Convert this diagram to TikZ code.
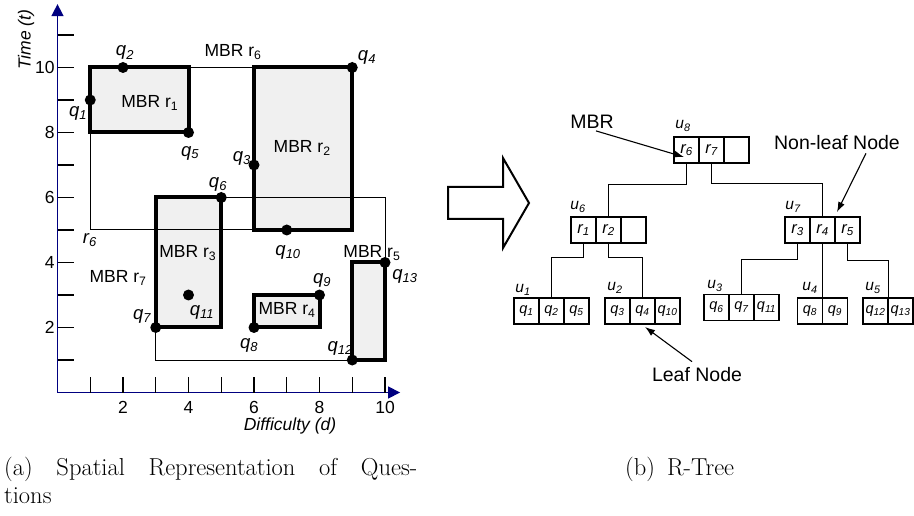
\documentclass[tikz,border=0pt]{standalone}
\usepackage{fontspec}
\newfontfamily\hv{Liberation Sans}
\usetikzlibrary{arrows.meta,calc}
\definecolor{mbrfill}{HTML}{F0F0F0}
\definecolor{axisblue}{HTML}{000080}
\newcommand\qq[1]{\textit{q\textsubscript{#1}}}
\newcommand\rr[1]{\textit{r\textsubscript{#1}}}
\newcommand\uu[1]{\textit{u\textsubscript{#1}}}
\newcommand\mbrname[1]{MBR r\textsubscript{#1}}
\tikzset{
 axisline/.style={draw=axisblue, line width=1.5pt, -{Triangle[length=12pt,width=12pt]}},
 tickmark/.style={line width=1.2pt},
 numlbl/.style={font=\hv\fontsize{17.5}{20}\selectfont, inner sep=0pt},
 mbrlbl/.style={font=\hv\fontsize{17.5}{20}\selectfont, inner sep=0pt},
 qlbl/.style={font=\hv\fontsize{18.5}{20}\selectfont, inner sep=0pt},
 mbrbox/.style={line width=4pt},
 mbrthin/.style={line width=1pt},
 qdot/.style={circle, fill, inner sep=0pt, minimum size=11pt},
 cell/.style={draw, line width=1.1pt, minimum width=25pt, minimum height=26pt, inner sep=0pt, font=\hv\fontsize{16.5}{18}\selectfont},
 leafcell/.style={cell, font=\hv\fontsize{14.5}{16}\selectfont},
 ulbl/.style={font=\hv\fontsize{15.5}{18}\selectfont, inner sep=0pt},
 note/.style={font=\hv\fontsize{19.5}{22}\selectfont, inner sep=0pt},
 link/.style={line width=1.1pt},
 callout/.style={line width=1.1pt, -{Latex[length=10pt,width=7pt]}},
 captext/.style={font=\fontsize{24.5}{29}\selectfont, inner sep=0pt, anchor=base west},
}
\begin{document}
\begin{tikzpicture}[x=1pt,y=1pt]
\useasboundingbox (0,0) rectangle (914,515);

% ---------------- (a) spatial plot ----------------
\begin{scope}[shift={(57.5pt,122.5pt)},x=32.75pt,y=32.5pt]
 \coordinate (O) at (0,0);
 \coordinate (ytip) at (0,11.95);
 \coordinate (xtip) at (10.46,0);
 % fills
 \fill[mbrfill] (1,8) rectangle (4,10);
 \fill[mbrfill] (6,5) rectangle (9,10);
 \fill[mbrfill] (3,2) rectangle (5,6);
 \fill[mbrfill] (6,2) rectangle (8,3);
 \fill[mbrfill] (9,1) rectangle (10,4);
 % thin MBRs r6, r7
 \draw[mbrthin] (1,5) rectangle (9,10);
 \draw[mbrthin] (3,1) rectangle (10,6);
 % thick MBRs
 \draw[mbrbox] (1,8) rectangle (4,10);
 \draw[mbrbox] (6,5) rectangle (9,10);
 \draw[mbrbox] (3,2) rectangle (5,6);
 \draw[mbrbox] (6,2) rectangle (8,3);
 \draw[mbrbox] (9,1) rectangle (10,4);
 % axes
 \draw[axisline] (O) -- (ytip);
 \draw[axisline] (O) -- (xtip);
 \foreach \i in {1,...,11} \draw[tickmark] (0,\i) -- ++(16pt,0);
 \foreach \i in {1,...,10} \draw[tickmark] (\i,0) -- ++(0,16pt);
 \foreach \i in {2,4,...,10} \node[numlbl,anchor=east] (yl\i) at (-0.08,\i) {\i};
 \foreach \i in {2,4,...,10} \node[numlbl] (xl\i) at (\i,-0.47) {\i};
 \node[numlbl,rotate=90] (ttl) at (-0.96,10.85) {\textit{Time (t)}};
 \node[numlbl] (dtl) at (7.1,-1.04) {\textit{Difficulty (d)}};
 % points
 \node[qdot] (q1) at (1,9) {};
 \node[qdot] (q2) at (2,10) {};
 \node[qdot] (q3) at (6,7) {};
 \node[qdot] (q4) at (9,10) {};
 \node[qdot] (q5) at (4,8) {};
 \node[qdot] (q6) at (5,6) {};
 \node[qdot] (q7) at (3,2) {};
 \node[qdot] (q8) at (6,2) {};
 \node[qdot] (q9) at (8,3) {};
 \node[qdot] (q10) at (7,5) {};
 \node[qdot] (q11) at (4,3) {};
 \node[qdot] (q12) at (9,1) {};
 \node[qdot] (q13) at (10,4) {};
 % point labels
 \node[qlbl] (lq1) at (0.63,8.6) {\qq{1}};
 \node[qlbl] (lq2) at (2.06,10.45) {\qq{2}};
 \node[qlbl] (lq3) at (5.63,7.21) {\qq{3}};
 \node[qlbl] (lq4) at (9.45,10.32) {\qq{4}};
 \node[qlbl] (lq5) at (4.05,7.37) {\qq{5}};
 \node[qlbl] (lq6) at (4.90,6.41) {\qq{6}};
 \node[qlbl] (lq7) at (2.58,2.35) {\qq{7}};
 \node[qlbl] (lq8) at (5.85,1.46) {\qq{8}};
 \node[qlbl] (lq9) at (8.08,3.46) {\qq{9}};
 \node[qlbl] (lq10) at (7.04,4.32) {\qq{10}};
 \node[qlbl] (lq11) at (4.41,2.45) {\qq{11}};
 \node[qlbl] (lq12) at (8.63,1.37) {\qq{12}};
 \node[qlbl] (lq13) at (10.61,3.58) {\qq{13}};
 \node[qlbl] (lr6) at (0.99,4.69) {\rr{6}};
 % MBR labels
 \node[mbrlbl] (m1) at (2.82,8.91) {\mbrname{1}};
 \node[mbrlbl] (m2) at (7.47,7.52) {\mbrname{2}};
 \node[mbrlbl] (m3) at (3.98,4.29) {\mbrname{3}};
 \node[mbrlbl] (m4) at (7.01,2.54) {\mbrname{4}};
 \node[mbrlbl] (m5) at (9.60,4.29) {\mbrname{5}};
 \node[mbrlbl] (m6) at (5.36,10.48) {\mbrname{6}};
 \node[mbrlbl] (m7) at (1.85,3.52) {\mbrname{7}};
\end{scope}

% ---------------- big arrow ----------------
\draw[line width=2pt, line join=miter] (448,328) -- (503,328) -- (503,357) -- (529,312)
   -- (503,267) -- (503,296) -- (448,296) -- cycle;

% ---------------- (b) R-tree ----------------
\node[cell] (u8a) at (686.5,365) {\rr{6}};
\node[cell] (u8b) at (711.5,365) {\rr{7}};
\node[cell] (u8c) at (736.5,365) {};
\node[cell] (u6a) at (583.5,285) {\rr{1}};
\node[cell] (u6b) at (608.5,285) {\rr{2}};
\node[cell] (u6c) at (633.5,285) {};
\node[cell] (u7a) at (797.5,285) {\rr{3}};
\node[cell] (u7b) at (822.5,285) {\rr{4}};
\node[cell] (u7c) at (847.5,285) {\rr{5}};
\node[leafcell] (u1a) at (526.5,204) {\qq{1}};
\node[leafcell] (u1b) at (551.5,204) {\qq{2}};
\node[leafcell] (u1c) at (576.5,204) {\qq{5}};
\node[leafcell] (u2a) at (617.5,204) {\qq{3}};
\node[leafcell] (u2b) at (642.5,204) {\qq{4}};
\node[leafcell] (u2c) at (667.5,204) {\qq{10}};
\node[leafcell] (u3a) at (716.5,207.5) {\qq{6}};
\node[leafcell] (u3b) at (741.5,207.5) {\qq{7}};
\node[leafcell] (u3c) at (766.5,207.5) {\qq{11}};
\node[leafcell] (u4a) at (810,204) {\qq{8}};
\node[leafcell] (u4b) at (835,204) {\qq{9}};
\node[leafcell] (u5a) at (875.5,204) {\qq{12}};
\node[leafcell] (u5b) at (900.5,204) {\qq{13}};

\node[ulbl] (lu8) at (683,389) {\uu{8}};
\node[ulbl] (lu6) at (578,308) {\uu{6}};
\node[ulbl] (lu7) at (793,308) {\uu{7}};
\node[ulbl] (lu1) at (523,225) {\uu{1}};
\node[ulbl] (lu2) at (615,227) {\uu{2}};
\node[ulbl] (lu3) at (715,229) {\uu{3}};
\node[ulbl] (lu4) at (810,227) {\uu{4}};
\node[ulbl] (lu5) at (873,227) {\uu{5}};

\draw[link] (u8a.south) -- ++(0,-21) -| (u6b.north);
\draw[link] (u8b.south) -- ++(0,-20) -| (u7b.north);
\draw[link] (u6a.south) -- ++(0,-14) -| (u1b.north);
\draw[link] (u6b.south) -- ++(0,-14) -| (u2b.north);
\draw[link] (u7a.south) -- ++(0,-16) -| (u3b.north);
\draw[link] (u7b.south) -- (u7b.south |- u4a.north);
\draw[link] (u7c.south) -- ++(0,-17) -| (u5a.north east);

% callouts
\node[note] (nmbr) at (592,393) {MBR};
\coordinate (mbrtip) at (684,358);
\draw[callout] ($(nmbr.south)+(4,-2)$) -- (mbrtip);
\node[note] (nnl) at (837,372) {Non-leaf Node};
\coordinate (nltip) at (837,303);
\draw[callout] ($(nnl.south)+(29,-3)$) -- (nltip);
\node[note] (nleaf) at (697,140) {Leaf Node};
\coordinate (leaftip) at (645,188);
\draw[callout] ($(nleaf.north)+(-5,6)$) -- (leaftip);

% captions
\node[captext] (capa1) at (4,40) {\makebox[413pt][s]{(a) Spatial Representation of Ques-}};
\node[captext] (capa2) at (4,11.5) {tions};
\node[captext] (capb) at (625,40) {(b)\hskip 12pt R-Tree};
\end{tikzpicture}
\end{document}
